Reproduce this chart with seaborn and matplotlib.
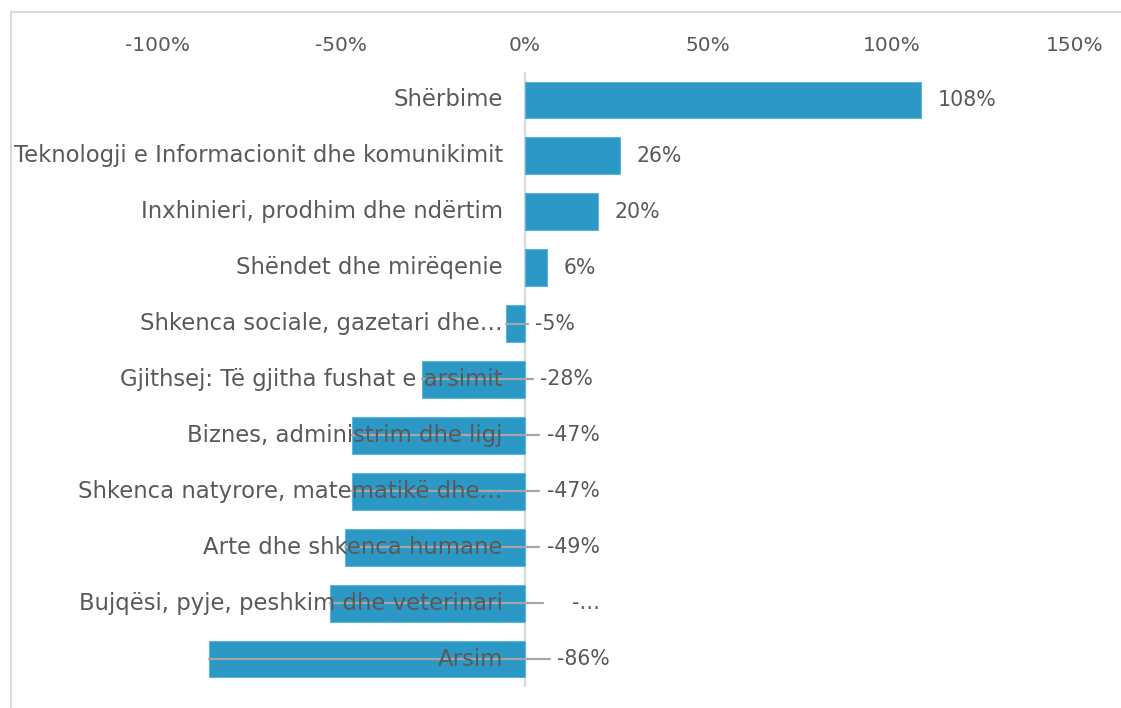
import numpy as np
import pandas as pd
import matplotlib
matplotlib.use("Agg")
import matplotlib.pyplot as plt
from matplotlib.patches import Rectangle
import seaborn as sns

# data
categories = [
    "Shërbime",
    "Teknologji e Informacionit dhe komunikimit",
    "Inxhinieri, prodhim dhe ndërtim",
    "Shëndet dhe mirëqenie",
    "Shkenca sociale, gazetari dhe…",
    "Gjithsej: Të gjitha fushat e arsimit",
    "Biznes, administrim dhe ligj",
    "Shkenca natyrore, matematikë dhe…",
    "Arte dhe shkenca humane",
    "Bujqësi, pyje, peshkim dhe veterinari",
    "Arsim",
]
values = [108, 26, 20, 6, -5, -28, -47, -47, -49, -53, -86]
value_labels = ["108%", "26%", "20%", "6%", "-5%", "-28%", "-47%", "-47%",
                "-49%", "-…", "-86%"]
ticks = [-100, -50, 0, 50, 100, 150]

# negative bars: (label x, leader line end) in % units
neg_layout = {4: (2.7, 0.8), 5: (4.1, 2.2), 6: (6.0, 3.8), 7: (6.0, 3.8),
              8: (6.0, 3.8), 9: (12.8, 4.9), 10: (8.7, 6.8)}

BAR = "#2B98C6"
TXT = "#595959"
FONT = ["DejaVu Sans"]

df = pd.DataFrame({"cat": categories, "val": values})

sns.set_style("white")
plt.rcParams["font.family"] = FONT

fig = plt.figure(figsize=(11.21, 7.08), dpi=100)
ax = fig.add_axes([158 / 1121, 21 / 708, (1075 - 158) / 1121, (687 - 72) / 708])

sns.barplot(data=df, x="val", y="cat", orient="h", color=BAR, width=0.66,
            edgecolor="#5FB4DC", linewidth=0.8, saturation=1, ax=ax, zorder=2)

ax.axvline(0, color="#D9D9D9", lw=1.6, zorder=1)

for i, (v, lab) in enumerate(zip(values, value_labels)):
    ax.text(-6, i, categories[i], ha="right", va="center", fontsize=16.4,
            color=TXT, zorder=4)
    if v >= 0:
        ax.annotate(lab, (v, i), xytext=(12, 0), textcoords="offset points",
                    ha="left", va="center", fontsize=14.8, color=TXT)
    else:
        lx, le = neg_layout[i]
        ax.plot([v, le], [i, i], color="#A6A6A6", lw=1.6, zorder=3)
        ax.text(lx, i, lab, ha="left", va="center", fontsize=14.8, color=TXT)

ax.set_xlim(-100, 150)
ax.set_ylim(len(values) - 0.5, -0.5)
ax.set_xticks(ticks)
ax.set_xticklabels([f"{t}%" for t in ticks])
ax.xaxis.tick_top()
ax.tick_params(axis="x", length=0, pad=12, labelsize=14.5, labelcolor=TXT)
ax.set_yticks([])
ax.set_xlabel("")
ax.set_ylabel("")
for s in ax.spines.values():
    s.set_visible(False)

# chart-area frame, only the top and left edges fall inside the picture
fig.patches.append(Rectangle((11 / 1121, -0.1), 1.2, 0.1 + (708 - 12) / 708,
                             transform=fig.transFigure, fill=False,
                             edgecolor="#D9D9D9", lw=1.5))

fig.savefig("out.png", dpi=100)
